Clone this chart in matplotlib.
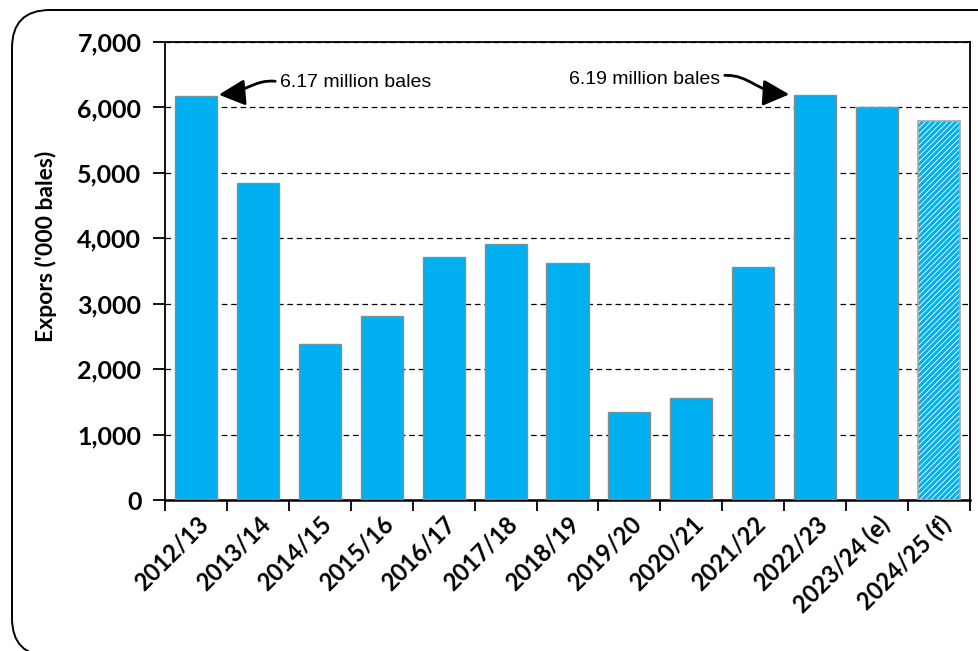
import matplotlib.pyplot as plt
from matplotlib.patches import FancyBboxPatch, FancyArrowPatch
from matplotlib.path import Path
from matplotlib.ticker import FuncFormatter, MultipleLocator

seasons = ['2012/13', '2013/14', '2014/15', '2015/16', '2016/17', '2017/18', '2018/19',
           '2019/20', '2020/21', '2021/22', '2022/23', '2023/24 (e)', '2024/25 (f)']
exports = [6170, 4840, 2380, 2810, 3710, 3910, 3620, 1345, 1560, 3560, 6190, 6000, 5800]
forecast = [False] * 12 + [True]

BLUE = '#00b0f0'
EDGE = '#8c8c8c'
bold_font = ['Lato', 'DejaVu Sans']
note_font = ['Liberation Sans', 'DejaVu Sans']

plt.rcParams['hatch.linewidth'] = 2.2

fig = plt.figure(figsize=(9.79, 6.51), dpi=100)

# rounded frame around the chart (inches), right side runs off the page
frame = FancyBboxPatch((0.12, -0.05), 10.1, 6.46,
                       boxstyle='round,pad=0,rounding_size=0.38',
                       transform=fig.dpi_scale_trans, fill=False, lw=1.4,
                       edgecolor='black', clip_on=False)
fig.patches.append(frame)

ax = fig.add_axes([165 / 979, 151 / 651, 805 / 979, 458 / 651])

x = list(range(len(seasons)))
solid_x = [i for i in x if not forecast[i]]
solid_y = [exports[i] for i in x if not forecast[i]]
fc_x = [i for i in x if forecast[i]]
fc_y = [exports[i] for i in x if forecast[i]]

ax.bar(solid_x, solid_y, width=0.68, color=BLUE, edgecolor=EDGE, lw=1, zorder=3)
# forecast bar: striped fill, then grey outline on top
ax.bar(fc_x, fc_y, width=0.68, color='white', edgecolor=BLUE, hatch='//////', lw=0, zorder=3)
ax.bar(fc_x, fc_y, width=0.68, fill=False, edgecolor='#a8a8a8', lw=1.2, zorder=4)

ax.set_xlim(-0.5, len(seasons) - 0.5)
ax.set_ylim(0, 7000)
ax.yaxis.set_major_locator(MultipleLocator(1000))
ax.yaxis.set_major_formatter(FuncFormatter(lambda v, p: f'{int(v):,}'))
ax.grid(axis='y', color='black', ls=(0, (4.5, 3)), lw=0.9, zorder=0)

for s in ax.spines.values():
    s.set_linewidth(1.3)
ax.spines['bottom'].set_linewidth(1.8)

ax.set_xticks(x)
ax.set_xticklabels(seasons, rotation=45, ha='right', rotation_mode='anchor',
                   fontsize=17, fontweight='bold', family=bold_font)
ax.tick_params(axis='x', length=0, pad=9)
ax.set_xticks([i - 0.5 for i in range(len(seasons) + 1)], minor=True)
ax.tick_params(axis='x', which='minor', length=8, width=1.3, direction='out')
ax.tick_params(axis='y', length=9, width=1.3, direction='out', pad=8)
for lab in ax.get_yticklabels():
    lab.set_fontsize(18)
    lab.set_fontweight('bold')
    lab.set_family(bold_font)

fig.text(46 / 979, 1 - 246 / 651, "Expors ('000 bales)", rotation=90, ha='center', va='center',
         fontsize=16.5, fontweight='bold', family=bold_font)

# notes with curved arrows
ax.text(1.36, 6380, '6.17 million bales', fontsize=14, family=note_font, va='center', ha='left')
ax.text(8.47, 6420, '6.19 million bales', fontsize=14, family=note_font, va='center', ha='right')

curve1 = Path([(1.28, 6400), (0.95, 6430), (0.8, 6230), (0.37, 6195)],
              [Path.MOVETO, Path.CURVE4, Path.CURVE4, Path.CURVE4])
curve2 = Path([(8.54, 6490), (8.95, 6500), (9.05, 6230), (9.58, 6200)],
              [Path.MOVETO, Path.CURVE4, Path.CURVE4, Path.CURVE4])
for c in (curve1, curve2):
    ax.add_patch(FancyArrowPatch(path=c, arrowstyle='-|>,head_length=10,head_width=5',
                                 color='black', lw=2, zorder=6, mutation_scale=1.6))

fig.savefig('out.png', dpi=100)
